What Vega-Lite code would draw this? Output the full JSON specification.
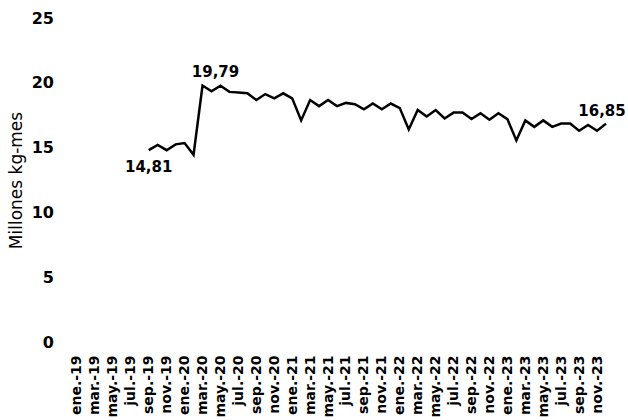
{
  "$schema": "https://vega.github.io/schema/vega-lite/v6.json",
  "width": 538,
  "height": 324,
  "autosize": {"type": "none"},
  "padding": {"left": 72.5, "top": 18, "right": 17.5, "bottom": 78},
  "background": "white",
  "config": {"view": {"stroke": null}, "font": "DejaVu Sans"},
  "data": {"values": [
    {"mes": "sep.-19", "valor": 14.81, "etiqueta": "14,81"},
    {"mes": "oct.-19", "valor": 15.2},
    {"mes": "nov.-19", "valor": 14.8},
    {"mes": "dic.-19", "valor": 15.25},
    {"mes": "ene.-20", "valor": 15.35},
    {"mes": "feb.-20", "valor": 14.45},
    {"mes": "mar.-20", "valor": 19.79, "etiqueta": "19,79"},
    {"mes": "abr.-20", "valor": 19.35},
    {"mes": "may.-20", "valor": 19.78},
    {"mes": "jun.-20", "valor": 19.3},
    {"mes": "jul.-20", "valor": 19.25},
    {"mes": "ago.-20", "valor": 19.2},
    {"mes": "sep.-20", "valor": 18.67},
    {"mes": "oct.-20", "valor": 19.13},
    {"mes": "nov.-20", "valor": 18.8},
    {"mes": "dic.-20", "valor": 19.19},
    {"mes": "ene.-21", "valor": 18.8},
    {"mes": "feb.-21", "valor": 17.1},
    {"mes": "mar.-21", "valor": 18.67},
    {"mes": "abr.-21", "valor": 18.2},
    {"mes": "may.-21", "valor": 18.67},
    {"mes": "jun.-21", "valor": 18.2},
    {"mes": "jul.-21", "valor": 18.45},
    {"mes": "ago.-21", "valor": 18.35},
    {"mes": "sep.-21", "valor": 17.95},
    {"mes": "oct.-21", "valor": 18.4},
    {"mes": "nov.-21", "valor": 17.95},
    {"mes": "dic.-21", "valor": 18.4},
    {"mes": "ene.-22", "valor": 18.05},
    {"mes": "feb.-22", "valor": 16.4},
    {"mes": "mar.-22", "valor": 17.9},
    {"mes": "abr.-22", "valor": 17.4},
    {"mes": "may.-22", "valor": 17.9},
    {"mes": "jun.-22", "valor": 17.25},
    {"mes": "jul.-22", "valor": 17.7},
    {"mes": "ago.-22", "valor": 17.7},
    {"mes": "sep.-22", "valor": 17.2},
    {"mes": "oct.-22", "valor": 17.65},
    {"mes": "nov.-22", "valor": 17.15},
    {"mes": "dic.-22", "valor": 17.65},
    {"mes": "ene.-23", "valor": 17.2},
    {"mes": "feb.-23", "valor": 15.55},
    {"mes": "mar.-23", "valor": 17.1},
    {"mes": "abr.-23", "valor": 16.6},
    {"mes": "may.-23", "valor": 17.1},
    {"mes": "jun.-23", "valor": 16.6},
    {"mes": "jul.-23", "valor": 16.85},
    {"mes": "ago.-23", "valor": 16.85},
    {"mes": "sep.-23", "valor": 16.3},
    {"mes": "oct.-23", "valor": 16.75},
    {"mes": "nov.-23", "valor": 16.3},
    {"mes": "dic.-23", "valor": 16.85, "etiqueta": "16,85"}
  ]},
  "encoding": {
    "x": {
      "field": "mes", "type": "ordinal", "sort": null,
      "scale": {"type": "point", "padding": 0.5, "domain": [
        "ene.-19","feb.-19","mar.-19","abr.-19","may.-19","jun.-19","jul.-19","ago.-19","sep.-19","oct.-19","nov.-19","dic.-19",
        "ene.-20","feb.-20","mar.-20","abr.-20","may.-20","jun.-20","jul.-20","ago.-20","sep.-20","oct.-20","nov.-20","dic.-20",
        "ene.-21","feb.-21","mar.-21","abr.-21","may.-21","jun.-21","jul.-21","ago.-21","sep.-21","oct.-21","nov.-21","dic.-21",
        "ene.-22","feb.-22","mar.-22","abr.-22","may.-22","jun.-22","jul.-22","ago.-22","sep.-22","oct.-22","nov.-22","dic.-22",
        "ene.-23","feb.-23","mar.-23","abr.-23","may.-23","jun.-23","jul.-23","ago.-23","sep.-23","oct.-23","nov.-23","dic.-23"]},
      "axis": {
        "values": ["ene.-19","mar.-19","may.-19","jul.-19","sep.-19","nov.-19","ene.-20","mar.-20","may.-20","jul.-20","sep.-20","nov.-20",
          "ene.-21","mar.-21","may.-21","jul.-21","sep.-21","nov.-21","ene.-22","mar.-22","may.-22","jul.-22","sep.-22","nov.-22",
          "ene.-23","mar.-23","may.-23","jul.-23","sep.-23","nov.-23"],
        "labelAngle": -90, "ticks": false, "domain": false, "title": null,
        "labelFontSize": 14, "labelFontWeight": "bold", "labelColor": "black",
        "labelPadding": 13, "labelOverlap": false
      }
    },
    "y": {
      "field": "valor", "type": "quantitative",
      "scale": {"domain": [0, 25]},
      "axis": {
        "values": [0, 5, 10, 15, 20, 25], "grid": false, "domain": false, "ticks": false,
        "title": "Millones kg-mes", "titleFontWeight": "normal", "titleFontSize": 17, "titleColor": "black",
        "titlePadding": 6,
        "labelFontSize": 16, "labelFontWeight": "bold", "labelColor": "black", "labelPadding": 19
      }
    }
  },
  "layer": [
    {"mark": {"type": "line", "color": "black", "strokeWidth": 2.5}},
    {
      "transform": [{"filter": "datum.etiqueta == '14,81'"}],
      "mark": {"type": "text", "fontSize": 15, "fontWeight": "bold", "color": "black", "dy": 17, "baseline": "middle"},
      "encoding": {"text": {"field": "etiqueta"}}
    },
    {
      "transform": [{"filter": "datum.etiqueta == '19,79'"}],
      "mark": {"type": "text", "fontSize": 15, "fontWeight": "bold", "color": "black", "dx": 13, "dy": -14, "baseline": "middle"},
      "encoding": {"text": {"field": "etiqueta"}}
    },
    {
      "transform": [{"filter": "datum.etiqueta == '16,85'"}],
      "mark": {"type": "text", "fontSize": 15, "fontWeight": "bold", "color": "black", "dx": -4, "dy": -13, "baseline": "middle"},
      "encoding": {"text": {"field": "etiqueta"}}
    }
  ]
}
